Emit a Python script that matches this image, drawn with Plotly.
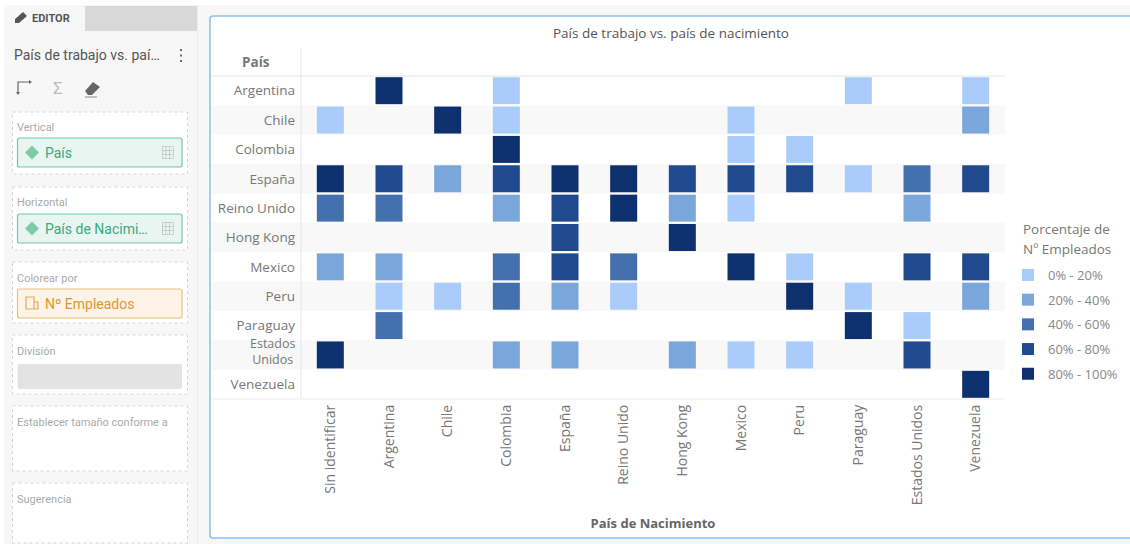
import plotly.graph_objects as go

paises_nacimiento = ["Sin identificar", "Argentina", "Chile", "Colombia", "España", "Reino Unido",
                     "Hong Kong", "Mexico", "Peru", "Paraguay", "Estados Unidos", "Venezuela"]
paises = ["Argentina", "Chile", "Colombia", "España", "Reino Unido", "Hong Kong", "Mexico",
          "Peru", "Paraguay", "Estados Unidos", "Venezuela"]

# Approximate percentage of employees, one list per working country (None = no data)
argentina      = [None, 90, None, 10, None, None, None, None, None, 10, None, 10]
chile          = [10, None, 90, 10, None, None, None, 10, None, None, None, 30]
colombia       = [None, None, None, 90, None, None, None, 10, 10, None, None, None]
espana         = [90, 70, 30, 70, 90, 90, 70, 70, 70, 10, 50, 70]
reino_unido    = [50, 50, None, 30, 70, 90, 30, 10, None, None, 30, None]
hong_kong      = [None, None, None, None, 70, None, 90, None, None, None, None, None]
mexico         = [30, 30, None, 50, 70, 50, None, 90, 10, None, 70, 70]
peru           = [None, 10, 10, 50, 30, 10, None, None, 90, 10, None, 30]
paraguay       = [None, 50, None, None, None, None, None, None, None, 90, 10, None]
estados_unidos = [90, None, None, 30, 30, None, 30, 10, 10, None, 70, None]
venezuela      = [None, None, None, None, None, None, None, None, None, None, None, 90]
valores = [argentina, chile, colombia, espana, reino_unido, hong_kong, mexico, peru,
           paraguay, estados_unidos, venezuela]

bin_labels = ["0% - 20%", "20% - 40%", "40% - 60%", "60% - 80%", "80% - 100%"]
bin_colors = ["#A9CCFA", "#7BA6DC", "#4570AF", "#214A8E", "#0E306F"]

W, H = 1130, 544
L, R, T, B = 301, 1005, 76, 399
FONT = "Open Sans"
UI = "Roboto"


def px(x):
    return (x - L) / (R - L)


def py(y):
    return 1 - (y - T) / (B - T)


def pth(cmds):
    out = []
    for c in cmds:
        if isinstance(c, str):
            out.append(c)
        else:
            out.append(f"{px(c[0]):.5f},{py(c[1]):.5f}")
    return " ".join(out)


shapes, notes = [], []


def rect(x0, y0, x1, y1, fill=None, line=None, lw=1, dash=None, rad=0):
    ln = dict(color=line or "rgba(0,0,0,0)", width=lw if line else 0)
    if dash:
        ln["dash"] = dash
    if rad:
        p = pth(["M", (x0 + rad, y0), "L", (x1 - rad, y0), "Q", (x1, y0), (x1, y0 + rad),
                 "L", (x1, y1 - rad), "Q", (x1, y1), (x1 - rad, y1),
                 "L", (x0 + rad, y1), "Q", (x0, y1), (x0, y1 - rad),
                 "L", (x0, y0 + rad), "Q", (x0, y0), (x0 + rad, y0), "Z"])
        shapes.append(dict(type="path", path=p, xref="paper", yref="paper", fillcolor=fill or "rgba(0,0,0,0)",
                           line=ln, layer="below"))
    else:
        shapes.append(dict(type="rect", x0=px(x0), x1=px(x1), y0=py(y0), y1=py(y1), xref="paper", yref="paper",
                           fillcolor=fill or "rgba(0,0,0,0)", line=ln, layer="below"))


def poly(cmds, fill=None, line=None, lw=1):
    shapes.append(dict(type="path", path=pth(cmds), xref="paper", yref="paper",
                       fillcolor=fill or "rgba(0,0,0,0)",
                       line=dict(color=line or "rgba(0,0,0,0)", width=lw if line else 0), layer="below"))


def text(x, y, s, size=13, color="#555", anchor="left", font=UI, bold=False, align="left"):
    notes.append(dict(x=px(x), y=py(y), xref="paper", yref="paper", text=f"<b>{s}</b>" if bold else s,
                      showarrow=False, xanchor=anchor, yanchor="middle", align=align,
                      font=dict(size=size, color=color, family=font)))


# page
rect(0, 0, 1130, 5, fill="#FFFFFF")
rect(0, 0, 4, 544, fill="#FFFFFF")
rect(4, 5, 197, 544, fill="#F7F7F7")
rect(85, 6, 197, 31, fill="#D8D8D8")
rect(197, 5, 198, 544, fill="#EDEDED")

# chart card
rect(210, 16, 1145, 538, fill="#FFFFFF", line="#8DBDEF", lw=1.5, rad=3)

# stripes (drawn from rows through the y axis)
for i in range(1, len(paises), 2):
    shapes.append(dict(type="rect", xref="paper", yref="y", x0=px(211), x1=1, y0=i - 0.5, y1=i + 0.5,
                       fillcolor="#F8F8F8", line=dict(width=0), layer="below"))
rect(211, 75.5, 1005, 76.5, fill="#E6E6E6")
rect(300.5, 48, 301.5, 399, fill="#E6E6E6")
rect(211, 398.5, 1005, 399.5, fill="#EDEDED")

# editor panel
poly(["M", (15, 23), "L", (15, 19), "L", (23, 12), "L", (27, 16), "L", (19, 23), "Z"], fill="#555555")
text(30, 18.5, "EDITOR", size=11, color="#555555", bold=True)
text(12, 55, "País de trabajo vs. paí…", size=14, color="#555555")
for yy in (50, 55.5, 61):
    rect(180, yy - 1, 182, yy + 1, fill="#666666")
poly(["M", (18, 94), "L", (18, 82), "L", (30, 82)], line="#666666", lw=1.2)
poly(["M", (16, 92), "L", (18, 95), "L", (20, 92), "Z"], fill="#666666")
poly(["M", (29, 80), "L", (32, 82), "L", (29, 84), "Z"], fill="#666666")
text(58, 88, "Σ", size=17, color="#BBBBBB", anchor="center")
poly(["M", (85, 91), "L", (93, 82), "L", (100, 87), "L", (92, 95), "L", (88, 95), "Z"], fill="#666666")
rect(85, 96.5, 97, 97.5, fill="#888888")

boxes = [(112, 174), (187, 250), (262, 323), (335, 394), (406, 471), (483, 543)]
for y0, y1 in boxes:
    rect(12.5, y0, 187.5, y1, fill="#FFFFFF", line="#D5D5D5", lw=1, dash="dot")
for yy, s in [(127, "Vertical"), (202, "Horizontal"), (278, "Colorear por"), (351, "División"),
              (422, "Establecer tamaño conforme a"), (499, "Sugerencia")]:
    text(15, yy, s, size=11, color="#AAAAAA")

G_LINE, G_FILL, G_TXT = "#6FC8A3", "#E9F5F0", "#3BAA7D"
for y0, y1, s in [(138, 167, "País"), (214, 243, "País de Nacimi…")]:
    rect(17.5, y0, 182, y1, fill=G_FILL, line=G_LINE, lw=1.2, rad=2)
    c = (y0 + y1) / 2
    poly(["M", (25, c), "L", (32, c - 7), "L", (39, c), "L", (32, c + 7), "Z"], fill="#7FCBA8")
    text(43, c, s, size=14, color=G_TXT)
    for d in (0, 4, 8, 12):
        rect(162, c - 6 + d, 173, c - 5.5 + d, fill="#AAAAAA")
        rect(162 + d * 11 / 12, c - 6, 162.5 + d * 11 / 12, c + 6, fill="#AAAAAA")

rect(17.5, 289, 182, 318, fill="#FDF3E6", line="#F0BE78", lw=1.2, rad=2)
poly(["M", (26, 309), "L", (26, 297), "L", (34, 297), "L", (34, 309), "Z",
      "M", (34, 302), "L", (38, 302), "L", (38, 309), "L", (34, 309)], line="#E8A95A", lw=1.2)
text(43, 303.5, "Nº Empleados", size=14, color="#E39530")
rect(17.5, 364, 182, 389, fill="#E3E3E3", rad=2)

# axis-corner title, two-line tick label and legend heading
text(255.5, 62, "País", size=13.5, color="#777777", anchor="center", font=FONT, bold=True)
text(297, 351, "Estados<br>Unidos", size=12.5, color="#777777", anchor="right", font=FONT, align="center")
text(1021, 229, "Porcentaje de", size=13.5, color="#777777", font=FONT)
text(1021, 249, "Nº Empleados", size=13.5, color="#777777", font=FONT)

traces = []
for b, (lab, col) in enumerate(zip(bin_labels, bin_colors)):
    xs, ys = [], []
    for row, fila in zip(paises, valores):
        for c, v in zip(paises_nacimiento, fila):
            if v is not None and b * 20 <= v < (b + 1) * 20:
                xs.append(c)
                ys.append(row)
    traces.append(go.Scatter(x=xs, y=ys, mode="markers", name=lab, legendgroup=lab,
                             marker=dict(symbol="square", size=27, color=col,
                                         line=dict(width=0)),
                             hovertemplate="%{y} / %{x}<extra>" + lab + "</extra>"))

fig = go.Figure(traces)
fig.update_layout(
    width=W, height=H, autosize=False,
    margin=dict(l=L, r=W - R, t=T, b=H - B, pad=0),
    paper_bgcolor="#F7F7F7", plot_bgcolor="rgba(0,0,0,0)",
    font=dict(family=FONT, color="#777777", size=13),
    title=dict(text="País de trabajo vs. país de nacimiento", x=671 / W, xanchor="center", xref="container",
               y=1 - 33 / H, yanchor="middle", font=dict(size=13.5, color="#555555", family=FONT)),
    xaxis=dict(categoryorder="array", categoryarray=paises_nacimiento, type="category",
               range=[-0.5, 11.5], showgrid=False, zeroline=False, showline=False, ticks="",
               tickangle=-90, tickfont=dict(size=14, color="#777777"), ticklabelstandoff=2,
               title=dict(text="<b>País de Nacimiento</b>", font=dict(size=13, color="#666666"), standoff=14),
               automargin=False),
    yaxis=dict(categoryorder="array", categoryarray=paises, type="category",
               tickmode="array", tickvals=paises,
               ticktext=[" " if p == "Estados Unidos" else p for p in paises],
               range=[10.5, -0.5], showgrid=False, zeroline=False, showline=False, ticks="",
               tickfont=dict(size=13.5, color="#777777"), ticklabelstandoff=5, automargin=False),
    legend=dict(xref="container", yref="container", x=1008 / W, xanchor="left", y=1 - 260 / H, yanchor="top",
                bgcolor="rgba(0,0,0,0)", itemsizing="constant", tracegroupgap=4.8,
                font=dict(size=13, color="#888888"),
                traceorder="grouped", itemclick=False, itemdoubleclick=False),
    shapes=shapes, annotations=notes,
)
fig.write_html("out.html", config=dict(displayModeBar=False),
               post_script="document.body.style.margin='0';document.body.style.overflow='hidden';")
